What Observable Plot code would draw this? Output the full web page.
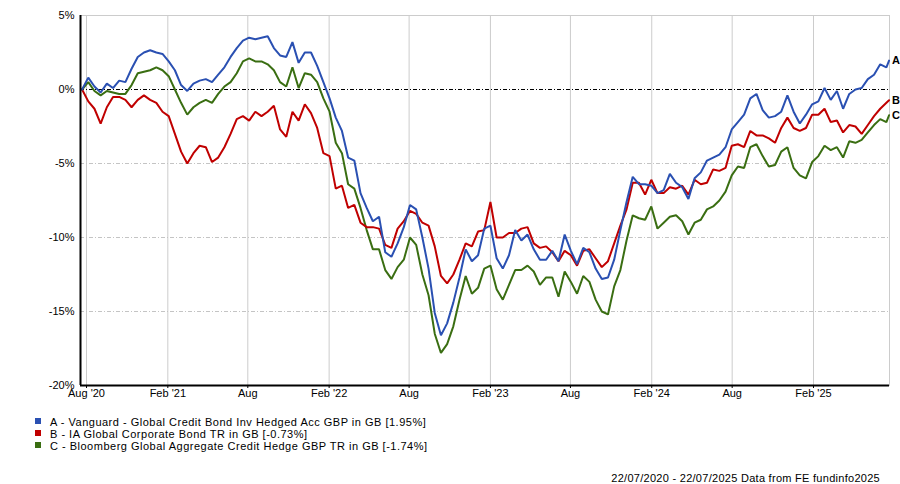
<!DOCTYPE html>
<html>
<head>
<meta charset="utf-8">
<script src="https://cdn.jsdelivr.net/npm/d3@7"></script>
<script src="https://cdn.jsdelivr.net/npm/@observablehq/plot@0.6"></script>
<style>
  html, body { margin: 0; padding: 0; background: #fff; }
  #wrap { position: relative; width: 900px; height: 484px; font-family: "Liberation Sans", Arial, sans-serif; color: #000; }
  .row { position: absolute; left: 50px; font-size: 11px; letter-spacing: 0.5px; line-height: 12px; white-space: nowrap; }
  .sw { position: absolute; left: 35px; width: 6px; height: 6px; }
  #foot { position: absolute; right: 20px; top: 472px; font-size: 11px; letter-spacing: 0.28px; line-height: 12px; white-space: nowrap; }
</style>
</head>
<body>
<div id="wrap"></div>
<script>
// Series names and colours
const seriesKeys = ["A", "B", "C"];
const seriesNames = [
  "A - Vanguard - Global Credit Bond Inv Hedged Acc GBP in GB [1.95%]",
  "B - IA Global Corporate Bond TR in GB [-0.73%]",
  "C - Bloomberg Global Aggregate Credit Hedge GBP TR in GB [-1.74%]"
];
const seriesColors = ["#2a50b2", "#c00000", "#3a6e12"];

// Cumulative % performance, sampled every 14 days from 22/07/2020, last point 22/07/2025
const valuesA = [
  0.0, 0.8, 0.2, -0.2, 0.4, 0.1, 0.6, 0.5, 1.4, 2.2,
  2.5, 2.65, 2.5, 2.4, 1.9, 1.3, 0.3, -0.1, 0.4, 0.6,
  0.7, 0.5, 1.0, 1.5, 2.2, 2.8, 3.3, 3.5, 3.4, 3.5,
  3.6, 2.8, 2.3, 2.2, 3.2, 1.8, 2.5, 2.5, 1.6, 0.5,
  -0.6, -1.9, -2.8, -4.6, -4.8, -7.0, -8.0, -8.9, -8.6, -11.0,
  -11.3, -10.4, -9.3, -7.8, -8.1, -10.0, -12.1, -15.1, -16.6, -15.8,
  -14.4, -12.7, -10.8, -11.6, -11.2, -9.4, -9.2, -11.4, -12.1, -11.2,
  -9.5, -10.2, -9.8, -10.8, -11.5, -11.5, -10.9, -11.6, -9.8, -10.9,
  -11.8, -10.7, -11.0, -12.1, -12.8, -12.7, -11.5, -9.5, -7.6, -5.9,
  -6.4, -6.4, -6.5, -7.0, -6.8, -5.7, -6.3, -6.6, -7.4, -6.0,
  -5.6, -4.8, -4.6, -4.4, -3.9, -2.7, -2.2, -1.7, -0.6, -0.3,
  -1.4, -1.9, -1.8, -1.5, -0.4, -1.5, -2.3, -1.7, -1.0, -0.8,
  0.1, -0.7, -0.1, -1.3, -0.3, 0.0, 0.1, 0.7, 1.0, 1.7,
  1.5, 1.95
];
const valuesB = [
  0.0, -0.8, -1.3, -2.3, -1.2, -0.5, -0.5, -0.7, -1.2, -0.7,
  -0.4, -0.7, -0.9, -1.5, -1.8, -3.0, -4.2, -5.0, -4.3, -3.8,
  -3.9, -4.9, -4.6, -3.9, -3.0, -2.0, -1.8, -2.1, -1.5, -1.8,
  -1.5, -1.1, -2.7, -3.2, -1.5, -2.1, -1.0, -1.6, -2.6, -4.3,
  -4.5, -6.7, -6.5, -8.0, -7.8, -9.0, -9.3, -9.3, -9.4, -10.5,
  -10.7, -9.4, -8.9, -8.2, -8.4, -9.0, -9.2, -10.6, -12.6, -13.1,
  -12.5, -11.5, -10.4, -10.6, -9.6, -9.5, -7.6, -10.0, -10.0, -9.7,
  -9.7, -9.4, -9.3, -10.4, -10.7, -10.6, -11.0, -11.6, -10.9, -11.2,
  -11.9, -10.9, -10.8, -11.4, -12.0, -11.6, -10.4, -9.2, -8.1, -6.3,
  -6.3, -7.1, -6.1, -7.0, -7.0, -6.6, -6.7, -6.5, -7.1, -6.1,
  -6.4, -6.3, -5.4, -5.5, -5.3, -3.8, -3.7, -3.9, -2.8, -3.1,
  -3.1, -3.3, -3.6, -2.6, -1.9, -2.6, -2.8, -2.6, -1.7, -1.7,
  -1.3, -2.2, -2.1, -2.9, -2.4, -2.5, -3.0, -2.4, -1.8, -1.3,
  -0.9, -0.73
];
const valuesC = [
  0.0, 0.5, -0.1, -0.4, -0.1, -0.2, -0.3, -0.3, 0.3, 1.1,
  1.2, 1.3, 1.5, 1.3, 0.9, 0.0, -0.9, -1.7, -1.2, -0.9,
  -0.7, -0.9, -0.3, 0.2, 0.5, 1.1, 1.9, 2.1, 1.9, 1.9,
  1.7, 1.3, 0.5, 0.2, 1.5, 0.1, 1.1, 1.0, 0.5, -0.6,
  -1.5, -3.6, -4.3, -6.4, -6.7, -8.0, -9.5, -10.8, -10.8, -12.2,
  -12.8, -12.0, -11.5, -10.0, -10.5, -12.5, -13.9, -16.5, -17.8, -17.2,
  -16.0, -14.2, -12.6, -13.8, -13.4, -12.1, -11.9, -13.5, -14.2, -13.2,
  -12.2, -12.2, -11.9, -12.3, -13.2, -12.7, -12.7, -14.0, -12.3, -13.0,
  -13.8, -12.6, -13.0, -14.2, -15.0, -15.2, -13.3, -12.2, -10.2, -8.5,
  -8.7, -8.8, -7.9, -9.4, -9.0, -8.6, -8.5, -8.9, -9.8, -9.0,
  -8.8, -8.1, -7.9, -7.5, -6.9, -5.8, -5.2, -5.3, -3.9, -3.7,
  -4.5, -5.2, -5.1, -4.2, -3.9, -5.3, -5.8, -6.0, -4.9, -4.5,
  -3.8, -4.1, -3.9, -4.6, -3.5, -3.6, -3.4, -2.9, -2.4, -2.0,
  -2.2, -1.74
];

// Axis ticks
const xTickDates = ["2020-08-01","2021-02-01","2021-08-01","2022-02-01","2022-08-01","2023-02-01","2023-08-01","2024-02-01","2024-08-01","2025-02-01"];
const xTickLabels = ["Aug '20","Feb '21","Aug","Feb '22","Aug","Feb '23","Aug","Feb '24","Aug","Feb '25"];
const yTicks = [5, 0, -5, -10, -15, -20];
const yGrid = [-5, -10, -15];

const startDate = new Date(Date.UTC(2020, 6, 22));
const endDate = new Date(Date.UTC(2025, 6, 22));
const nPts = valuesA.length;
const dates = d3.range(nPts).map(i => i < nPts - 1 ? d3.utcDay.offset(startDate, 14 * i) : endDate);

const allValues = [valuesA, valuesB, valuesC];
const rows = [];
// draw C first, A last (on top)
[2, 1, 0].forEach(k => {
  allValues[k].forEach((v, i) => rows.push({ key: seriesKeys[k], date: dates[i], value: v }));
});
const endLabels = seriesKeys.map((k, j) => ({ key: k, date: endDate, value: allValues[j][nPts - 1] }));

const tickDates = xTickDates.map(s => new Date(s + "T00:00Z"));
const labelMap = new Map(tickDates.map((d, i) => [+d, xTickLabels[i]]));
const xDomain = [new Date("2020-07-18T10:00Z"), new Date("2025-07-23T00:00Z")];

const chart = Plot.plot({
  width: 900,
  height: 405,
  marginLeft: 80,
  marginRight: 11,
  marginTop: 15,
  marginBottom: 20,
  style: { fontFamily: "'Liberation Sans', Arial, sans-serif", fontSize: "11px", color: "#000", background: "#fff" },
  x: { type: "utc", domain: xDomain },
  y: { domain: [-20, 5] },
  color: { domain: seriesKeys, range: seriesColors },
  marks: [
    Plot.ruleX(tickDates, { stroke: "#cccccc", strokeWidth: 1 }),
    Plot.ruleY(yGrid, { stroke: "#c4c4c4", strokeWidth: 1, strokeDasharray: "4,2,1,2" }),
    Plot.frame({ stroke: "#cccccc", strokeWidth: 1 }),
    Plot.ruleY([0], { stroke: "#000", strokeWidth: 1, strokeDasharray: "4,2,1,2" }),
    Plot.line(rows, { x: "date", y: "value", z: "key", stroke: d => d.key, strokeWidth: 2, strokeLinejoin: "miter" }),
    Plot.ruleX([xDomain[0]], { stroke: "#000", strokeWidth: 2 }),
    Plot.ruleY([-20], { stroke: "#000", strokeWidth: 2 }),
    Plot.axisX(tickDates, { tickSize: 3, tickPadding: 1, tickFormat: d => labelMap.get(+d), label: null, fontSize: 11, stroke: "#000" }),
    Plot.axisY(yTicks, { tickSize: 0, tickPadding: 6, tickFormat: d => d + "%", label: null, fontSize: 11 }),
    Plot.text(endLabels, { x: "date", y: "value", text: "key", textAnchor: "start", dx: 3, fontWeight: "bold", fontSize: 11, fill: "#000" })
  ]
});

const wrap = document.getElementById("wrap");
wrap.appendChild(chart);
chart.style.position = "absolute";
chart.style.left = "0px";
chart.style.top = "0px";

seriesNames.forEach((name, k) => {
  const sw = document.createElement("div");
  sw.className = "sw";
  sw.style.top = (418 + 12 * k) + "px";
  sw.style.background = seriesColors[k];
  wrap.appendChild(sw);
  const row = document.createElement("div");
  row.className = "row";
  row.style.top = (416 + 12 * k) + "px";
  row.textContent = name;
  wrap.appendChild(row);
});
const foot = document.createElement("div");
foot.id = "foot";
foot.textContent = "22/07/2020 - 22/07/2025 Data from FE fundinfo2025";
wrap.appendChild(foot);
</script>
</body>
</html>
